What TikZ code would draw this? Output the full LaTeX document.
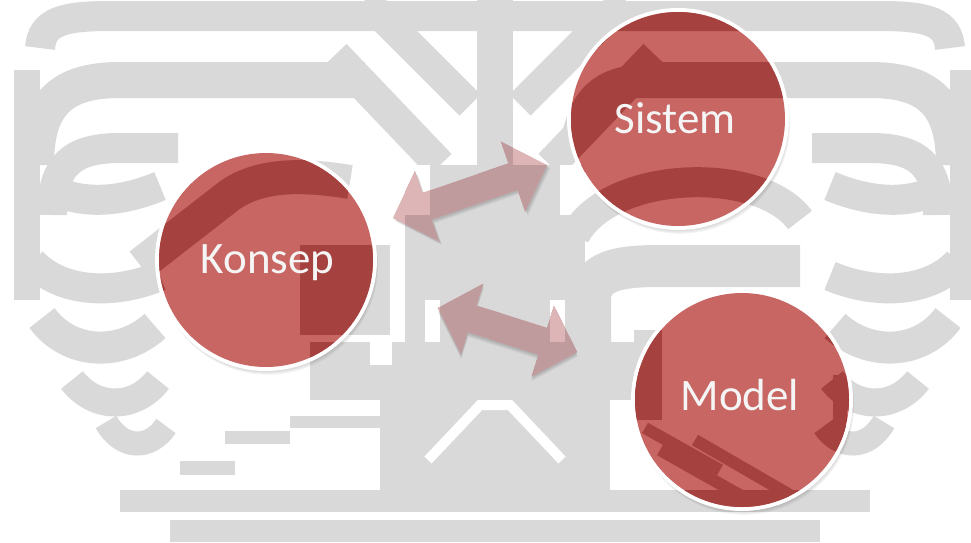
\documentclass[tikz,border=0pt]{standalone}
\usepackage{fontspec}
\setmainfont{Carlito}
\usetikzlibrary{calc}
\colorlet{wmc}{black!15}
\colorlet{wmg}{white}
\definecolor{bubblelight}{RGB}{200,102,99}
\definecolor{bubbledark}{RGB}{165,65,63}
\definecolor{arrowlight}{RGB}{221,181,182}
\definecolor{arrowdark}{RGB}{191,155,157}

% one half of the faint emblem in the background (mirrored for the other half)
\newcommand\emblemhalf{%
  \draw[wm] (40,48) .. controls (42,22) and (62,16) .. (110,16) -- (500,16);
  \draw[wm, line width=36] (36,165) .. controls (36,105) and (60,80) .. (120,80) -- (365,80);
  \draw[wm] (52,215) .. controls (52,165) and (72,148) .. (120,148) -- (178,148);
  \draw[wm, line width=26] (27,70) -- (27,300);
  \draw[wm] (42,182) .. controls (70,205) and (115,205) .. (160,186);
  \draw[wm] (32,262) .. controls (60,292) and (112,296) .. (160,276);
  \draw[wm, line width=32] (42,318) .. controls (70,356) and (122,356) .. (155,326);
  \draw[wm, line width=28] (72,380) .. controls (95,410) and (135,410) .. (158,380);
  \draw[wm, line width=24] (106,422) .. controls (122,450) and (150,450) .. (166,426);
  \draw[wm, line width=32] (335,55) -- (440,165);
  \draw[wm] (365,0) -- (470,105);
  \draw[wm, line width=36] (495,0) -- (495,175);
  % middle of the emblem
  \fill[wmc] (405,165) rectangle (500,400);
  \fill[wmg] (405,165) rectangle (430,215);
  \fill[wmg] (425,300) rectangle (440,370);
  \fill[wmc] (380,400) rectangle (500,490);
  \draw[wmgap, line width=10] (428,460) -- (480,405) -- (500,405);
  % base
  \fill[wmc] (120,490) rectangle (500,512);
  \fill[wmc] (170,520) rectangle (500,542);
}
\newcommand\emblem{%
  \emblemhalf
  \begin{scope}[xshift=990, xscale=-1]\emblemhalf\end{scope}%
  % parts that are not mirrored
  \fill[wmc] (310,342) rectangle (500,400);
  \fill[wmg] (370,342) rectangle (392,365);
  \fill[wmc] (490,342) rectangle (640,400);
  \draw[wm, line width=12] (290,422) -- (400,422);
  \draw[wm, line width=13] (225,437) -- (290,437);
  \draw[wm, line width=14] (180,468) -- (235,468);
  \draw[wm, line width=34] (140,265) -- (230,195) .. controls (255,178) and (290,172) .. (350,182);
  \fill[wmc] (300,245) rectangle (390,335);
  \draw[wm, line width=28] (575,140) .. controls (583,100) and (600,80) .. (645,78);
  \draw[wm, line width=30] (575,235) .. controls (610,170) and (760,165) .. (800,220);
  \draw[wm, line width=42] (590,345) -- (590,300) .. controls (590,270) and (620,266) .. (660,266) -- (800,266);
  \draw[wm, line width=28] (648,330) -- (648,420);
  \draw[wm, line width=12] (645,428) -- (720,470);
  \draw[wm, line width=12] (660,450) -- (745,498);
  \draw[wm, line width=12] (695,440) -- (790,495);
  \draw[wm, line width=14] (840,375) -- (840,440);
}
% double-headed block arrow, centred on the origin, half length \arrL
\newcommand\arrowshape{(-\arrL,0) -- (-\arrL+36,37) -- (-\arrL+36,14) -- (\arrL-36,14)
  -- (\arrL-36,37) -- (\arrL,0) -- (\arrL-36,-37) -- (\arrL-36,-14)
  -- (-\arrL+36,-14) -- (-\arrL+36,-37) -- cycle}
% draws a block arrow at (#1,#2), turned by #3, half length #4
\newcommand\blockarrow[4]{%
  \def\arrL{#4}%
  \begin{scope}[shift={(#1,#2)}, rotate=#3]
    \foreach \s in {1,2,3,4}{\fill[black, opacity=0.05, shift={(0.4*\s,1.1*\s)}] \arrowshape;}
    \clip \arrowshape;
    \begin{scope}[reset cm]
      \colorlet{wmc}{arrowdark}\colorlet{wmg}{arrowlight}
      \fill[arrowlight] (0,0) rectangle (971,542);
      \emblem
    \end{scope}
  \end{scope}
}
% red disc with its white rim
\newcommand\bubblefill[1]{%
  \foreach \s in {1,2,3,4}{\fill[black, opacity=0.045] ($(#1.center)+(0.5*\s,1.2*\s)$) circle[radius=110];}
  \fill[white] (#1.center) circle[radius=111];
  \begin{scope}
    \clip (#1.center) circle[radius=107];
    \colorlet{wmc}{bubbledark}\colorlet{wmg}{bubblelight}
    \fill[bubblelight] (0,0) rectangle (971,542);
    \emblem
  \end{scope}
}
\begin{document}
\begin{tikzpicture}[x=1pt, y=-1pt,
  wm/.style={draw=wmc, line width=30},
  wmgap/.style={draw=wmg},
  bubble/.style={circle, minimum size=214pt, inner sep=0pt},
  lbl/.style={text=white!96!black, font=\fontsize{45}{54}\selectfont, inner sep=0pt, anchor=base}]
  \useasboundingbox (0,0) rectangle (971,542);
  \fill[white] (0,0) rectangle (971,542);
  \emblem

  % two-way arrows between the concepts
  \blockarrow{470}{191.5}{19}{81.5}
  \blockarrow{507.5}{330}{-17.6}{73}

  % the three concepts
  \node[bubble] (konsep) at (266,260) {};
  \node[bubble] (sistem) at (678,119) {};
  \node[bubble] (model) at (742,400) {};
  \bubblefill{konsep}
  \bubblefill{sistem}
  \bubblefill{model}
  \node[lbl] (konseplbl) at (267.5,273) {Konsep};
  \node[lbl] (sistemlbl) at (675,133) {Sistem};
  \node[lbl] (modellbl) at (740,410.5) {Model};
\end{tikzpicture}
\end{document}
